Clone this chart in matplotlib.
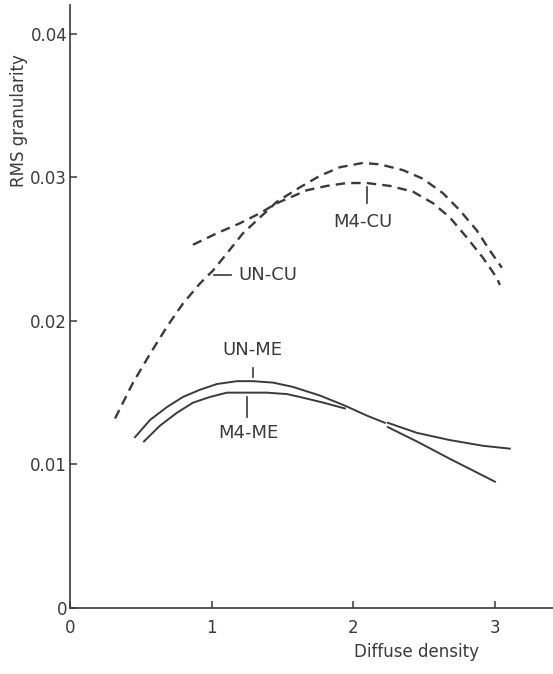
import matplotlib.pyplot as plt
import numpy as np

plt.rcParams['font.family'] = ['DejaVu Sans']

# curves: diffuse density vs RMS granularity
un_cu_d = [0.318, 0.445, 0.565, 0.685, 0.797, 0.917, 1.009, 1.108, 1.221, 1.341, 1.461,
           1.623, 1.764, 1.905, 2.068, 2.188, 2.35, 2.491, 2.632, 2.752, 2.872, 2.964, 3.049]
un_cu_g = [0.0132, 0.0157, 0.0177, 0.0196, 0.0212, 0.0226, 0.0235, 0.0247, 0.0261, 0.0272, 0.0283,
           0.0293, 0.0301, 0.0307, 0.0310, 0.0309, 0.0305, 0.0299, 0.0289, 0.0277, 0.0263, 0.0249, 0.0237]

m4_cu_d = [0.868, 1.037, 1.2, 1.341, 1.461, 1.673, 1.814, 1.955, 2.096, 2.258, 2.421,
           2.562, 2.682, 2.802, 2.915, 3.013, 3.035]
m4_cu_g = [0.0253, 0.0261, 0.0268, 0.0275, 0.0282, 0.0291, 0.0294, 0.0296, 0.0296, 0.0294, 0.0290,
           0.0282, 0.0272, 0.0258, 0.0244, 0.0230, 0.0225]

un_me_d = [0.459, 0.565, 0.685, 0.797, 0.917, 1.037, 1.179, 1.291, 1.433, 1.574, 1.764,
           1.94, 2.096, 2.223, np.nan, 2.244, 2.449, 2.68, 3.0]
un_me_g = [0.0119, 0.0131, 0.0140, 0.0147, 0.0152, 0.0156, 0.0158, 0.0158, 0.0157, 0.0154, 0.0148,
           0.0141, 0.0134, 0.0129, np.nan, 0.0126, 0.0116, 0.0104, 0.0088]

m4_me_d = [0.522, 0.635, 0.755, 0.868, 0.988, 1.108, 1.249, 1.39, 1.531, 1.623, 1.79,
           1.94, np.nan, 2.244, 2.449, 2.68, 2.915, 3.105]
m4_me_g = [0.0116, 0.0127, 0.0136, 0.0143, 0.0147, 0.0150, 0.0150, 0.0150, 0.0149, 0.0147, 0.0143,
           0.0139, np.nan, 0.0129, 0.0122, 0.0117, 0.0113, 0.0111]

xticks = [0, 1, 2, 3]
yticks = [0, 0.01, 0.02, 0.03, 0.04]
ytick_labels = ['0', '0.01', '0.02', '0.03', '0.04']

ink = '#3a3a3a'

fig = plt.figure(figsize=(5.53, 6.74), dpi=100)
ax = fig.add_axes([0.1266, 0.0979, 0.8734, 0.8947])

dash = (0, (4, 2.6))
ax.plot(un_cu_d, un_cu_g, color=ink, lw=1.7, linestyle=dash)
ax.plot(m4_cu_d, m4_cu_g, color=ink, lw=1.7, linestyle=dash)
ax.plot(un_me_d, un_me_g, color=ink, lw=1.4)
ax.plot(m4_me_d, m4_me_g, color=ink, lw=1.4)

# curve labels with their little leader marks
ax.plot([1.02, 1.14], [0.0232, 0.0232], color=ink, lw=1.2)
ax.text(1.19, 0.0232, 'UN-CU', fontsize=13, color=ink, ha='left', va='center')
ax.plot([2.10, 2.10], [0.0293, 0.0282], color=ink, lw=1.2)
ax.text(2.07, 0.0269, 'M4-CU', fontsize=13, color=ink, ha='center', va='center')
ax.plot([1.29, 1.29], [0.0167, 0.0161], color=ink, lw=1.2)
ax.text(1.285, 0.0180, 'UN-ME', fontsize=13, color=ink, ha='center', va='center')
ax.plot([1.25, 1.25], [0.0147, 0.0133], color=ink, lw=1.2)
ax.text(1.256, 0.0122, 'M4-ME', fontsize=13, color=ink, ha='center', va='center')

ax.set_xlim(0, 3.41)
ax.set_ylim(0, 0.042)
ax.spines['top'].set_visible(False)
ax.spines['right'].set_visible(False)
for s in ['left', 'bottom']:
    ax.spines[s].set_color(ink)
    ax.spines[s].set_linewidth(1.2)

ax.set_xticks(xticks)
ax.set_xticklabels([str(t) for t in xticks])
ax.set_yticks(yticks)
ax.set_yticklabels(ytick_labels)
ax.tick_params(axis='x', direction='in', length=5, width=1.1, pad=8, labelsize=12, colors=ink)
ax.tick_params(axis='y', direction='in', length=5, width=1.1, pad=2, labelsize=12, colors=ink)

ax.set_xlabel('Diffuse density', fontsize=12, color=ink)
ax.xaxis.set_label_coords(0.718, -0.058)
ax.set_ylabel('RMS granularity', fontsize=12, color=ink)
ax.yaxis.set_label_coords(-0.087, 0.809)

fig.savefig('out.png', dpi=100)
